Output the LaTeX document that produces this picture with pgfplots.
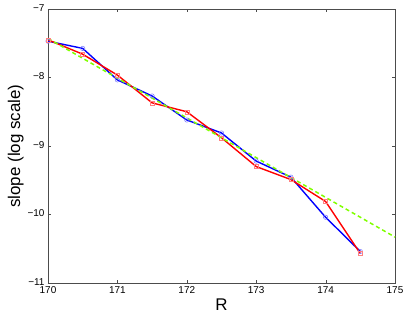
\documentclass[border=0pt]{standalone}
\usepackage{fontspec}
\setmainfont{Liberation Sans}
\usepackage{pgfplots}
\pgfplotsset{compat=1.18}
\definecolor{lime}{rgb}{0.5,1,0}
\begin{document}
\begin{tikzpicture}
\useasboundingbox (-48bp,-36bp) rectangle (359bp,283bp);
\begin{axis}[
  scale only axis,
  width=347bp, height=274bp,
  xmin=170, xmax=175, ymin=-11, ymax=-7,
  xtick={170,171,...,175},
  xticklabels={170,171,172,173,174,175},
  ytick={-11,-10,...,-7},
  yticklabels={−11,−10,−9,−8,−7},
  tick align=inside,
  major tick length=3bp,
  axis line style={black!70, line width=0.7pt},
  tick style={black!70},
  ticklabel style={font=\fontsize{10}{12}\selectfont},
  xticklabel style={yshift=0bp},
  yticklabel style={yshift=1bp},
  xlabel={R},
  ylabel={slope (log scale)},
  label style={font=\fontsize{17}{20}\selectfont},
  xlabel style={yshift=2bp},
  ylabel style={yshift=-3bp},
  clip=false,
]
\addplot[blue, line width=1.4pt, mark=o, mark size=2.2bp,
  mark options={line width=0.5pt, draw=blue!55}] coordinates {
(170,-7.47) (170.5,-7.575) (171,-8.035) (171.5,-8.27) (172,-8.62)
(172.5,-8.81) (173,-9.22) (173.5,-9.455) (174,-10.04) (174.5,-10.54)
};
\addplot[red, line width=1.4pt, mark=square, mark size=2bp,
  mark options={line width=0.5pt, draw=red!50}] coordinates {
(170,-7.45) (170.5,-7.66) (171,-7.965) (171.5,-8.37) (172,-8.50)
(172.5,-8.88) (173,-9.30) (173.5,-9.49) (174,-9.81) (174.5,-10.57)
};
\addplot[lime, line width=1.5pt, dash pattern=on 4bp off 3bp] coordinates {
(170,-7.43) (170.5,-7.72) (171,-8.01) (171.5,-8.30) (172,-8.59)
(172.5,-8.88) (173,-9.17) (173.5,-9.46) (174,-9.75) (174.5,-10.04) (175,-10.33)
};
\end{axis}
\end{tikzpicture}
\end{document}
